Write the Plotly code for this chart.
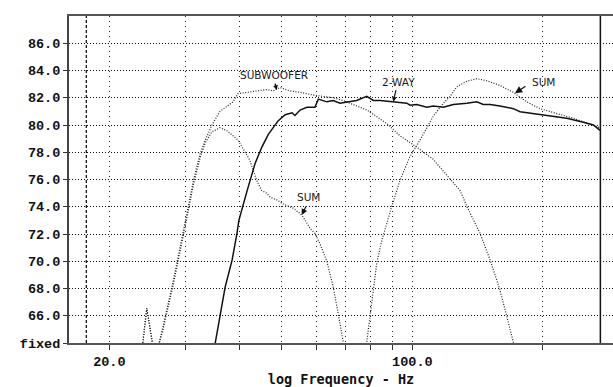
import plotly.graph_objects as go

# ---- data ----
sub_freq = [23.6, 23.9, 24.4, 25.5, 26.6, 28.1, 29.6, 30.2, 31.3, 32.4, 33.3, 34.5, 36.0, 38.6, 39.6,
            41.5, 43.8, 46.1, 47.7, 49.5, 52.2, 55.1, 59.0, 62.2, 65.6, 69.2, 78.6, 87.4, 93.7,
            100.0, 104.2, 111.6, 120.2, 128.8, 133.7, 143.3, 151.1, 159.3, 165.3, 170.7, 176.0]
sub_db = [62.5, 64.0, 66.55, 62.8, 65.2, 68.6, 72.0, 73.5, 76.0, 77.9, 78.9, 80.0, 81.0, 81.7, 82.3,
          82.4, 82.5, 82.6, 82.5, 82.75, 82.5, 82.4, 82.2, 82.1, 82.0, 81.8, 81.1, 80.1, 79.2,
          78.6, 78.2, 77.5, 76.3, 75.2, 74.0, 72.05, 70.1, 67.9, 65.9, 64.2, 62.5]

sum_freq = [23.6, 23.9, 24.4, 25.5, 26.6, 28.1, 29.6, 30.2, 31.3, 32.4, 33.3, 34.5, 36.0, 37.3, 39.6,
            42.2, 43.8, 44.9, 46.1, 47.0, 48.7, 50.4, 53.1, 55.1, 56.0, 58.1, 59.6, 61.2, 63.5,
            65.7, 67.5, 69.3, 72.0, 75.5, 78.5, 79.9, 81.3, 82.8, 85.0, 87.3, 89.6, 92.1, 93.7,
            98.8, 104.2, 111.8, 117.9, 122.2, 126.6, 133.5, 140.8, 148.5, 159.3, 171.0, 183.6,
            197.0, 211.4, 234.9, 271.0]
sum_db = [62.5, 64.0, 66.55, 62.8, 65.0, 68.3, 71.7, 73.2, 75.7, 77.6, 78.7, 79.5, 79.8, 79.6, 78.9,
          77.4, 75.9, 75.2, 75.0, 74.7, 74.5, 74.2, 73.9, 73.5, 73.25, 72.4, 72.05, 71.3, 70.0,
          68.1, 66.1, 64.06, 58.0, 58.0, 64.06, 66.0, 67.9, 69.9, 71.5, 72.8, 74.0, 75.2, 75.95,
          77.7, 78.9, 80.65, 81.6, 82.1, 82.8, 83.2, 83.4, 83.25, 82.9, 82.4, 81.7,
          81.2, 80.9, 80.5, 79.8]

tw_freq = [34.7, 35.1, 37.0, 38.4, 39.4, 39.8, 41.6, 43.4, 45.0, 46.5, 49.0, 50.9, 52.8, 53.6, 55.1,
           57.1, 59.6, 60.7, 63.5, 65.7, 68.1, 70.6, 74.4, 78.5, 81.3, 84.3, 90.4, 93.7, 97.1,
           98.8, 102.4, 108.0, 111.8, 117.9, 124.3, 133.5, 140.8, 145.8, 151.1, 159.3, 171.0,
           177.2, 190.2, 207.8, 227.1, 248.0, 261.6, 271.0]
tw_db = [63.0, 64.0, 68.1, 70.1, 72.05, 73.0, 75.2, 77.2, 78.4, 79.3, 80.3, 80.75, 80.9, 80.7, 81.1,
         81.3, 81.3, 81.9, 81.7, 81.8, 81.6, 81.7, 81.8, 82.1, 81.8, 81.8, 81.7, 81.7, 81.6,
         81.45, 81.5, 81.3, 81.4, 81.3, 81.5, 81.6, 81.7, 81.5, 81.5, 81.4, 81.2,
         80.97, 80.85, 80.7, 80.5, 80.2, 80.0, 79.6]

cursor_left = 17.7
cursor_right = 271.5

y_tickvals = [64, 66, 68, 70, 72, 74, 76, 78, 80, 82, 84, 86]
y_ticktext = ["fixed", "66.0", "68.0", "70.0", "72.0", "74.0", "76.0", "78.0", "80.0", "82.0", "84.0", "86.0"]
x_tickvals = [20, 30, 40, 50, 60, 70, 80, 90, 100, 200]
x_ticktext = ["20.0", "", "", "", "", "", "", "", "100.0", ""]

Y_MIN, Y_MAX = 64, 88

fig = go.Figure()

dot_style = dict(color="#1e1e1e", width=1.2, dash="1px,1.6px")
fig.add_trace(go.Scatter(x=sub_freq, y=sub_db, mode="lines", line=dot_style, name="SUBWOOFER"))
fig.add_trace(go.Scatter(x=sum_freq, y=sum_db, mode="lines", line=dot_style, name="SUM"))
fig.add_trace(go.Scatter(x=tw_freq, y=tw_db, mode="lines", line=dict(color="#111", width=1.5), name="2-WAY"))

# cursor lines
fig.add_trace(go.Scatter(x=[cursor_left, cursor_left], y=[Y_MIN, Y_MAX], mode="lines",
                         line=dict(color="#111", width=1.3, dash="3px,2px")))
fig.add_trace(go.Scatter(x=[cursor_right, cursor_right], y=[Y_MIN, Y_MAX], mode="lines",
                         line=dict(color="#111", width=1.5)))

tick_font = dict(family="Liberation Mono", size=13.5, color="#111", weight="bold")

fig.update_layout(
    width=613, height=387, autosize=False,
    margin=dict(l=69, r=0, t=16, b=44),
    paper_bgcolor="white", plot_bgcolor="white",
    showlegend=False,
    xaxis=dict(
        type="log", range=[1.2080, 2.4629],
        tickvals=x_tickvals, ticktext=x_ticktext,
        ticks="outside", ticklen=5, tickwidth=1, tickcolor="#333",
        tickfont=tick_font,
        showgrid=True, gridcolor="#222", gridwidth=1, griddash="1px,4px",
        showline=True, linecolor="#555", linewidth=2, mirror=True,
        zeroline=False,
        title=dict(text="log Frequency - Hz", standoff=8,
                   font=dict(family="DejaVu Sans Mono", size=13.5, color="#111", weight="bold")),
    ),
    yaxis=dict(
        range=[Y_MIN, Y_MAX],
        tickvals=y_tickvals, ticktext=y_ticktext,
        ticks="outside", ticklen=4, tickwidth=1, tickcolor="#333",
        tickfont=tick_font,
        showgrid=True, gridcolor="#111", gridwidth=1, griddash="1px,2px",
        showline=True, linecolor="#444", linewidth=2, mirror=False,
        zeroline=False,
    ),
)

ann_font = dict(family="DejaVu Sans", size=10.5, color="#1a1a1a")
# labels (x in log10 units for a log axis)
labels = [
    ("SUBWOOFER", 1.6816, 83.67),
    ("2-WAY", 1.9676, 83.18),
    ("SUM", 2.3021, 83.18),
    ("SUM", 1.7616, 74.74),
]
for txt, lx, ly in labels:
    fig.add_annotation(x=lx, y=ly, text=txt, showarrow=False, font=ann_font,
                       xanchor="center", yanchor="middle")

arrows = [
    (1.6871, 82.57, -2, -8, 0.8),
    (1.9561, 81.71, 3, -13, 0.8),
    (2.2368, 82.33, 12, -8, 1.2),
    (1.7448, 73.39, 5, -10, 1.0),
]
for tx, ty, ax, ay, sz in arrows:
    fig.add_annotation(x=tx, y=ty, ax=ax, ay=ay, text="", showarrow=True,
                       arrowhead=2, arrowsize=sz, arrowwidth=1.2, arrowcolor="#111", standoff=0)

fig.write_html("out.html")
